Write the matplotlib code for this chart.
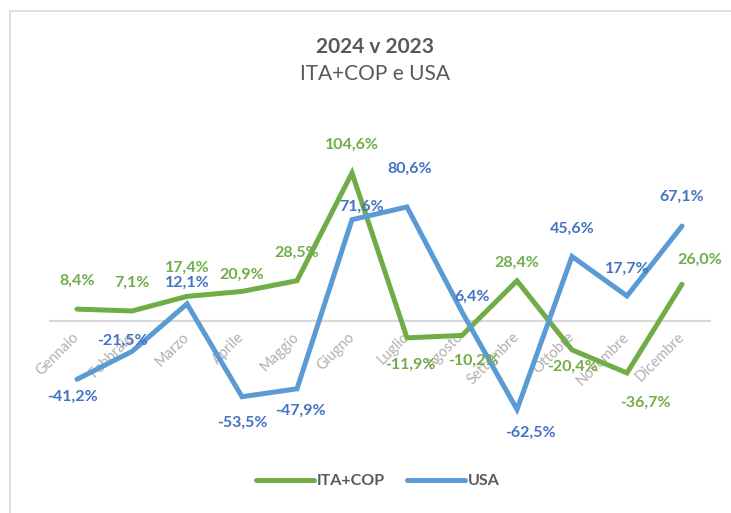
import matplotlib.pyplot as plt
from matplotlib.lines import Line2D
from matplotlib.transforms import ScaledTranslation

# dati del grafico
mesi = ['Gennaio', 'Febbraio', 'Marzo', 'Aprile', 'Maggio', 'Giugno', 'Luglio',
        'Agosto', 'Settembre', 'Ottobre', 'Novembre', 'Dicembre']
ita_cop = [8.4, 7.1, 17.4, 20.9, 28.5, 104.6, -11.9, -10.2, 28.4, -20.4, -36.7, 26.0]
usa = [-41.2, -21.5, 12.1, -53.5, -47.9, 71.6, 80.6, 6.4, -62.5, 45.6, 17.7, 67.1]

# spostamento delle etichette (pixel)
off_ita = [(0, 28), (0, 28), (0, 29), (0, 17), (0, 28), (0, 28),
           (3, -27), (11, -25), (0, 18), (0, -17), (18, -30), (18, 24)]
off_usa = [(-5, -17), (-10, 11), (0, 21), (0, -26), (3, -22), (10, 13),
           (3, 38), (10, 15), (13, -23), (0, 28), (0, 27), (0, 29)]

verde = '#70AD47'
blu = '#5B9BD5'
blu_txt = '#4472C4'
grigio = '#595959'

plt.rcParams['font.family'] = ['Lato', 'DejaVu Sans']

fig = plt.figure(figsize=(7.31, 5.13), dpi=100)
ax = fig.add_axes([49.5 / 731, 0.0984, 660 / 731, 0.6069])

x = list(range(len(mesi)))
ax.plot(x, ita_cop, color=verde, lw=3.6, solid_capstyle='round',
        solid_joinstyle='miter', label='ITA+COP', zorder=3)
ax.plot(x, usa, color=blu, lw=3.6, solid_capstyle='round',
        solid_joinstyle='miter', label='USA', zorder=3)

for i in x:
    ax.annotate(f'{ita_cop[i]:.1f}%'.replace('.', ','), (i, ita_cop[i]),
                xytext=off_ita[i], textcoords='offset pixels', ha='center',
                va='center', color=verde, fontsize=11.5, fontweight='bold', zorder=4)
    ax.annotate(f'{usa[i]:.1f}%'.replace('.', ','), (i, usa[i]),
                xytext=off_usa[i], textcoords='offset pixels', ha='center',
                va='center', color=blu_txt, fontsize=11.5, fontweight='bold', zorder=4)

ax.set_xlim(-0.5, 11.5)
ax.set_ylim(-100, 120)
ax.set_yticks([])
for s in ['top', 'right', 'left']:
    ax.spines[s].set_visible(False)
ax.spines['bottom'].set_position(('data', 0))
ax.spines['bottom'].set_color('#D9D9D9')
ax.spines['bottom'].set_linewidth(1.5)
ax.spines['bottom'].set_zorder(1)
ax.set_xticks(x)
ax.set_xticklabels(mesi, rotation=45, ha='right', va='center',
                   rotation_mode='anchor', color='#B0B0B0', fontsize=10.5)
ax.tick_params(axis='x', length=0, pad=10)
for lab in ax.get_xticklabels():
    lab.set_transform(lab.get_transform() + ScaledTranslation(0, 0, fig.dpi_scale_trans))

# titolo
fig.text(375 / 731, 1 - 47 / 513, '2024 v 2023', ha='center', va='center',
         fontsize=15, fontweight='bold', color=grigio)
fig.text(375 / 731, 1 - 74 / 513, 'ITA+COP e USA', ha='center', va='center',
         fontsize=15, color=grigio)

# legenda
leg = fig.legend(loc='center', bbox_to_anchor=(378 / 731, 1 - 481 / 513), ncol=2,
                 frameon=False, handlelength=3.6, handletextpad=0.2,
                 columnspacing=1.4, prop={'size': 11.5, 'weight': 'bold'})
for t in leg.get_texts():
    t.set_color(grigio)

# bordo del grafico
fig.add_artist(Line2D([10 / 731, 1], [1 - 11 / 513, 1 - 11 / 513],
                      transform=fig.transFigure, color='#D9D9D9', lw=1.2))
fig.add_artist(Line2D([10 / 731, 10 / 731], [0, 1 - 11 / 513],
                      transform=fig.transFigure, color='#D9D9D9', lw=1.2))

fig.savefig('out.png', dpi=100)
